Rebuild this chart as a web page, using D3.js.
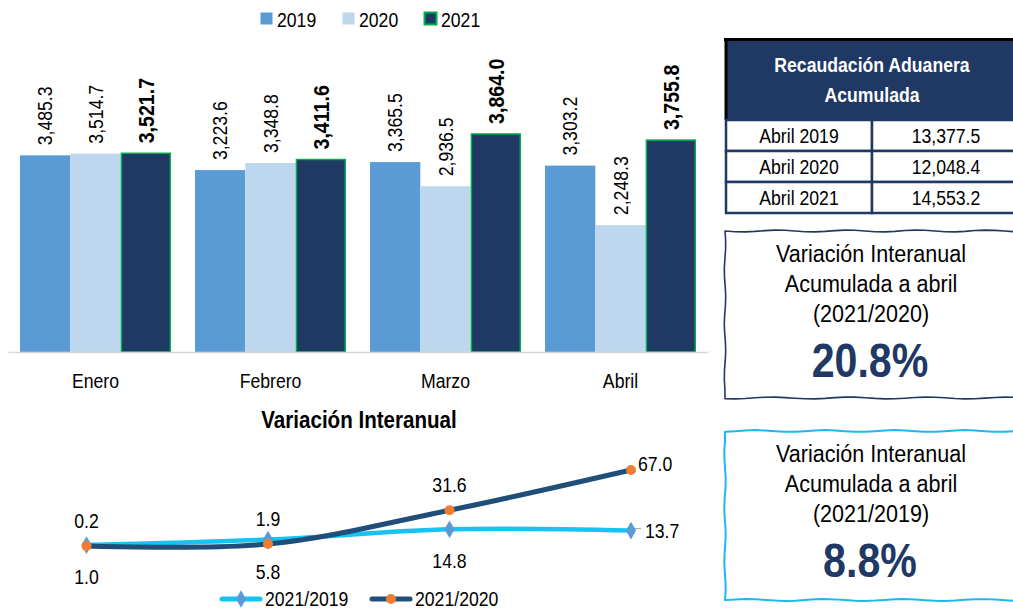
<!DOCTYPE html>
<html>
<head>
<meta charset="utf-8">
<script src="https://cdn.jsdelivr.net/npm/d3@7"></script>
<style>
  html, body { margin: 0; padding: 0; background: #fff; }
  svg { display: block; font-family: "Liberation Sans", Arial, sans-serif; }
</style>
</head>
<body>
<svg id="chart" width="1013" height="610"></svg>
<script>
// ---------- DATA ----------
const months = ["Enero", "Febrero", "Marzo", "Abril"];
const years = ["2019", "2020", "2021"];
const values2019 = [3485.3, 3223.6, 3365.5, 3303.2];
const values2020 = [3514.7, 3348.8, 2936.5, 2248.3];
const values2021 = [3521.7, 3411.6, 3864.0, 3755.8];

const varSeriesNames = ["2021/2019", "2021/2020"];
const var2021vs2019 = [1.0, 5.8, 14.8, 13.7];
const var2021vs2020 = [0.2, 1.9, 31.6, 67.0];

const tableTitle = ["Recaudación Aduanera", "Acumulada"];
const tableLabels = ["Abril 2019", "Abril 2020", "Abril 2021"];
const tableValues = [13377.5, 12048.4, 14553.2];

const boxLines = ["Variación Interanual", "Acumulada a abril"];
const boxPeriods = ["(2021/2020)", "(2021/2019)"];
const boxValues = [20.8, 8.8];

const lineTitle = "Variación Interanual";

// ---------- SETUP ----------
const svg = d3.select("#chart");
const fmt = d3.format(",.1f");
const barColors = { "2019": "#5B9BD5", "2020": "#BDD7EE", "2021": "#203864" };
const green = "#00B050";
const barSeries = years.map((y, i) => ({ year: y, values: [values2019, values2020, values2021][i] }));
const SX = 0.88;   // narrow typeface look

// condensed text helper
function ctext(parent, x, y, str, size, o = {}) {
  const g = parent.append("g").attr("transform", `translate(${x},${y})${o.rotate ? ` rotate(${o.rotate})` : ""}`);
  return g.append("text")
    .attr("transform", `scale(${o.sx || SX},1)`)
    .attr("font-size", size / (o.sx || SX) * 0.98)
    .attr("font-weight", o.bold ? "bold" : "normal")
    .attr("fill", o.fill || "#000")
    .attr("text-anchor", o.anchor || "start")
    .attr("dy", o.dy || null)
    .text(str);
}

// ---------- TOP LEGEND ----------
const legX = d3.scalePoint().domain(years).range([260, 424]);
const leg = svg.append("g");
years.forEach(y => {
  const g = leg.append("g").attr("transform", `translate(${legX(y)},0)`);
  g.append("rect").attr("x", 0.5).attr("y", 12.5).attr("width", 12).attr("height", 12)
    .attr("fill", barColors[y])
    .attr("stroke", y === "2021" ? green : "none").attr("stroke-width", y === "2021" ? 2 : 0);
  ctext(g, 17, 27, y, 18);
});

// ---------- BAR CHART ----------
const x0 = d3.scaleBand().domain(months).range([8, 708]).paddingInner(0.137).paddingOuter(0.0685);
const x1 = d3.scaleBand().domain(years).range([0, x0.bandwidth()]);
const yBar = d3.scaleLinear().domain([0, 4500]).range([352, 352 - 4500 * 0.05643]);

const groups = svg.append("g").selectAll("g").data(months).join("g")
  .attr("transform", d => `translate(${x0(d)},0)`);

groups.each(function(m, mi) {
  const g = d3.select(this);
  barSeries.forEach(s => {
    const v = s.values[mi];
    const is21 = s.year === "2021";
    g.append("rect")
      .attr("x", x1(s.year) + (is21 ? 0.75 : 0))
      .attr("y", yBar(v))
      .attr("width", x1.bandwidth() - (is21 ? 1.5 : 0))
      .attr("height", yBar(0) - yBar(v))
      .attr("fill", barColors[s.year])
      .attr("stroke", is21 ? green : "none")
      .attr("stroke-width", is21 ? 1.5 : 0);
    const cx = x1(s.year) + x1.bandwidth() / 2;
    ctext(g, cx, yBar(v) - 10, fmt(v), is21 ? 20 : 18, { rotate: -90, dy: "0.36em", bold: is21 });
  });
});

// axis
const xAxis = svg.append("g").attr("transform", `translate(0,${yBar(0)})`)
  .call(d3.axisBottom(x0).tickSize(0).tickPadding(22).tickSizeOuter(0));
xAxis.select(".domain").attr("stroke", "#D9D9D9").attr("stroke-width", 1.5);
xAxis.selectAll("text").attr("font-size", 18 / SX * 0.98).attr("fill", "#000")
  .attr("transform", `scale(${SX},1)`)
  .attr("font-family", '"Liberation Sans", Arial, sans-serif');

// ---------- LINE CHART ----------
ctext(svg, 359, 428, lineTitle, 21, { anchor: "middle", bold: true });

const xL = d3.scalePoint().domain(months).range([86.5, 631]);
const yL = d3.scaleLinear().domain([0, 80]).range([546.2, 546.2 - 80 * 1.138]);
const lineGen = d3.line().x((d, i) => xL(months[i])).y(d => yL(d)).curve(d3.curveCardinal.tension(0));

const lineSeries = [
  { name: varSeriesNames[0], values: var2021vs2019, color: "#16C3F3", width: 4.5, marker: "diamond", mColor: "#5B9BD5", labelPos: "below" },
  { name: varSeriesNames[1], values: var2021vs2020, color: "#1F4E79", width: 5, marker: "circle", mColor: "#ED7D31", labelPos: "above" }
];

lineSeries.forEach(s => {
  svg.append("path").attr("d", lineGen(s.values)).attr("fill", "none")
    .attr("stroke", s.color).attr("stroke-width", s.width).attr("stroke-linecap", "round");
});
// small leader line near last 2021/2019 label
svg.append("line").attr("x1", xL("Abril") + 2).attr("y1", yL(var2021vs2019[3]) - 2)
  .attr("x2", xL("Abril") + 10).attr("y2", yL(var2021vs2019[3]) - 2)
  .attr("stroke", "#A6A6A6").attr("stroke-width", 1);

function drawMarker(g, type, color, x, y) {
  if (type === "diamond") {
    g.append("path").attr("d", d3.symbol(d3.symbolDiamond, 90)()).attr("transform", `translate(${x},${y})`)
      .attr("fill", color);
  } else {
    g.append("circle").attr("cx", x).attr("cy", y).attr("r", 5).attr("fill", color);
  }
}

lineSeries.forEach(s => {
  const g = svg.append("g");
  s.values.forEach((v, i) => {
    const x = xL(months[i]), y = yL(v);
    drawMarker(g, s.marker, s.mColor, x, y);
    const last = i === s.values.length - 1;
    const str = v.toFixed(1);
    if (last) {
      ctext(g, x + (s.labelPos === "above" ? 7 : 14), y + (s.labelPos === "above" ? -6 : 0), str, 18, { dy: "0.35em" });
    } else if (s.labelPos === "above") {
      ctext(g, x, y - 25, str, 18, { dy: "0.35em", anchor: "middle" });
    } else {
      ctext(g, x, y + 32, str, 18, { dy: "0.35em", anchor: "middle" });
    }
  });
});

// line legend
const ll = svg.append("g");
const llX = [222, 372];
lineSeries.forEach((s, i) => {
  const x = llX[i], y = 599;
  ll.append("line").attr("x1", x).attr("x2", x + 38).attr("y1", y).attr("y2", y)
    .attr("stroke", s.color).attr("stroke-width", 5).attr("stroke-linecap", "round");
  drawMarker(ll, s.marker, s.mColor, x + 19, y);
  ctext(ll, x + 43, y + 6.5, s.name, 18);
});

// ---------- TABLE ----------
const tbl = svg.append("g");
const navy = "#203864";
tbl.append("rect").attr("x", 725).attr("y", 39).attr("width", 300).attr("height", 81).attr("fill", navy);
tbl.append("line").attr("x1", 724).attr("x2", 1013).attr("y1", 39.5).attr("y2", 39.5).attr("stroke", "#000").attr("stroke-width", 3);
tbl.append("line").attr("x1", 726).attr("x2", 726).attr("y1", 38).attr("y2", 120).attr("stroke", "#000").attr("stroke-width", 3);
tableTitle.forEach((t, i) => {
  ctext(tbl, 872, 72 + i * 30, t, 18, { anchor: "middle", bold: true, fill: "#fff" });
});
const rowY = d3.scaleBand().domain(tableLabels).range([120, 213]);
tableLabels.forEach((lab, i) => {
  const y = rowY(lab), h = rowY.bandwidth();
  tbl.append("rect").attr("x", 726).attr("y", y).attr("width", 146).attr("height", h)
    .attr("fill", "#fff").attr("stroke", navy).attr("stroke-width", 2.5);
  tbl.append("rect").attr("x", 872).attr("y", y).attr("width", 150).attr("height", h)
    .attr("fill", "#fff").attr("stroke", navy).attr("stroke-width", 2.5);
  ctext(tbl, 799, y + h / 2, lab, 18, { dy: "0.36em", anchor: "middle" });
  ctext(tbl, 946, y + h / 2, fmt(tableValues[i]), 18, { dy: "0.36em", anchor: "middle" });
});

// ---------- BOXES ----------
const boxes = [
  { top: 231, h: 167, stroke: "#1F3864", sw: 1.6, period: boxPeriods[0], value: boxValues[0] },
  { top: 431, h: 169, stroke: "#1DB8EE", sw: 2, period: boxPeriods[1], value: boxValues[1] }
];
// hand-drawn looking outline: straight corners, gently wavy edges
function wobblyRect(x, y, w, h, amp, ph) {
  const pts = [];
  const nx = 30, ny = 18;
  for (let i = 0; i <= nx; i++) pts.push([x + w * i / nx, y + amp * Math.sin(i * 0.9 + ph)]);
  for (let i = 1; i <= ny; i++) pts.push([x + w, y + h * i / ny]);
  for (let i = nx - 1; i >= 0; i--) pts.push([x + w * i / nx, y + h + amp * Math.sin(i * 0.8 + ph + 1)]);
  for (let i = ny - 1; i >= 1; i--) pts.push([x + amp * 0.8 * Math.sin(i * 1.1 + ph), y + h * i / ny]);
  return d3.line().curve(d3.curveLinearClosed)(pts);
}
boxes.forEach((b, bi) => {
  const g = svg.append("g");
  g.append("path").attr("d", wobblyRect(725, b.top, 300, b.h, 0.9, bi * 2))
    .attr("fill", "#fff").attr("stroke", b.stroke).attr("stroke-width", b.sw)
    .attr("stroke-linejoin", "round");
  [boxLines[0], boxLines[1], b.period].forEach((t, i) => {
    ctext(g, 871, b.top + 31 + i * 30, t, 22, { anchor: "middle" });
  });
  ctext(g, 870, b.top + 146, b.value.toFixed(1) + "%", 42, { anchor: "middle", bold: true, fill: "#1F3864", sx: 0.84 });
});
</script>
</body>
</html>
